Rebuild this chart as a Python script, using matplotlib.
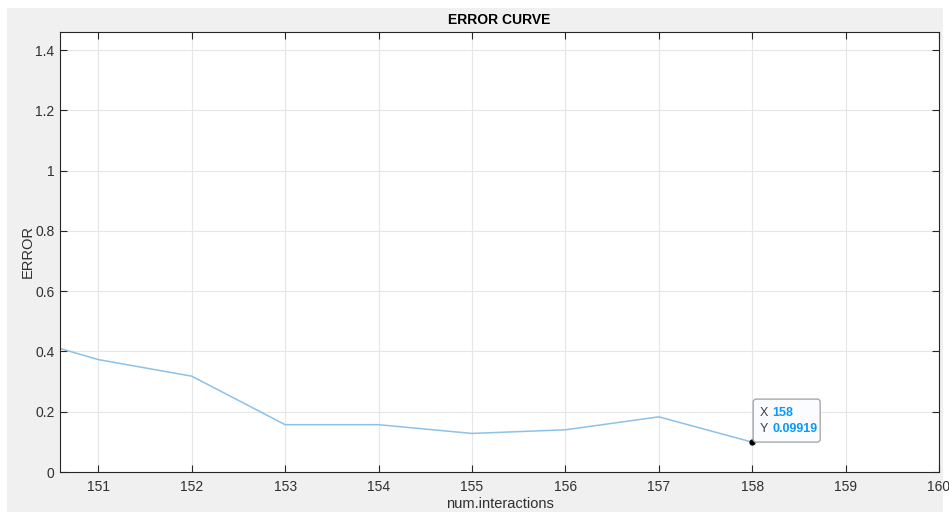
import matplotlib.pyplot as plt
import matplotlib.transforms as mtransforms
from matplotlib.patches import FancyBboxPatch, Rectangle

# Error per iteration
iterations = [150, 151, 152, 153, 154, 155, 156, 157, 158]
errors = [0.463, 0.373, 0.318, 0.157, 0.157, 0.128, 0.140, 0.183, 0.09919]
x_ticks = [151, 152, 153, 154, 155, 156, 157, 158, 159, 160]
y_ticks = [0, 0.2, 0.4, 0.6, 0.8, 1.0, 1.2, 1.4]
y_tick_labels = ['0', '0.2', '0.4', '0.6', '0.8', '1', '1.2', '1.4']
tip_x, tip_y = 158, 0.09919

plt.rcParams['font.family'] = ['Liberation Sans', 'DejaVu Sans']

W, H = 949, 512
fig = plt.figure(figsize=(W / 100, H / 100), dpi=100, facecolor='white')

# grey figure panel
fig.patches.append(Rectangle((7 / W, 0), 936 / W, 504 / H, transform=fig.transFigure,
                             facecolor='#f0f0f0', edgecolor='none', zorder=-10))

ax = fig.add_axes([60 / W, 1 - 472 / H, 879 / W, 440 / H])
ax.set_facecolor('white')

ax.plot(iterations, errors, color='#8cc1e8', linewidth=1.1, clip_on=True)
ax.plot([tip_x], [tip_y], 'o', color='black', markersize=3.5, zorder=5)

ax.set_xlim(150.59, 160)
ax.set_ylim(0, 1.46)
ax.set_xticks(x_ticks)
ax.set_yticks(y_ticks)
ax.set_yticklabels(y_tick_labels)

ax.grid(True, color='#e6e6e6', linewidth=0.8)
ax.set_axisbelow(True)
ax.tick_params(direction='in', length=5, width=0.8, color='#262626',
               labelcolor='#303030', labelsize=10, top=True, right=True)
ax.tick_params(axis='x', pad=6)
ax.tick_params(axis='y', pad=4)
for s in ax.spines.values():
    s.set_color('#262626')
    s.set_linewidth(0.8)

ax.set_title('ERROR CURVE', fontsize=10, fontweight='bold', color='black', pad=6)
ax.set_xlabel('num.interactions', fontsize=10.5, color='#303030', labelpad=2)
ax.set_ylabel('ERROR', fontsize=10.5, color='#303030', labelpad=0)

# data tip anchored at the last point (units in inches from the point)
trans = fig.dpi_scale_trans + mtransforms.ScaledTranslation(tip_x, tip_y, ax.transData)
box = FancyBboxPatch((0.01, 0.0), 0.67, 0.43, boxstyle='round,pad=0,rounding_size=0.03',
                     transform=trans, facecolor='#fbfcff', edgecolor='#a8a8a8',
                     linewidth=1, zorder=6, clip_on=False)
ax.add_patch(box)
ax.text(0.08, 0.29, 'X', transform=trans, fontsize=9, color='#404040', va='center', zorder=7)
ax.text(0.20, 0.29, f'{tip_x}', transform=trans, fontsize=9, color='#0a99f5',
        fontweight='bold', va='center', zorder=7)
ax.text(0.08, 0.13, 'Y', transform=trans, fontsize=9, color='#404040', va='center', zorder=7)
ax.text(0.20, 0.13, f'{tip_y}', transform=trans, fontsize=9, color='#0a99f5',
        fontweight='bold', va='center', zorder=7)

fig.savefig('out.png', dpi=100)
